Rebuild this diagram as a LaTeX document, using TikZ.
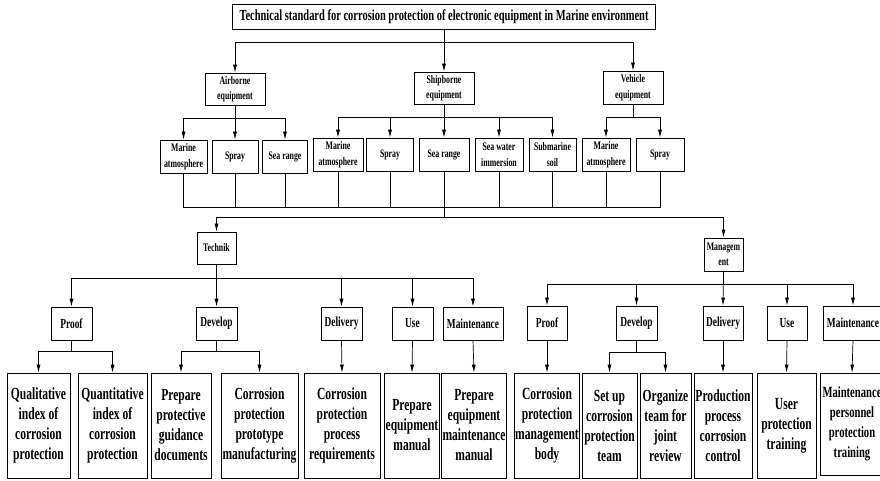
\documentclass[tikz,border=0pt]{standalone}
\usepackage{fontspec}
\newfontfamily\boxfont[FakeStretch=0.68]{Liberation Serif}
\usetikzlibrary{
  arrows.meta,
  positioning}

\begin{document}
\begin{tikzpicture}[x=1pt,y=-1pt]
  \tikzset{box/.style 2 args={draw,
                              rectangle,
                              color=black,
                              line width=0.8pt,
                              minimum width=#1,
                              minimum height=#2,
                              inner sep=1pt,
                              align=center},
           title font/.style={font=\boxfont\bfseries\fontsize{15.4}{17}\selectfont},
           small font/.style={font=\boxfont\bfseries\fontsize{11.5}{15.5}\selectfont},
           mid font/.style={font=\boxfont\bfseries\fontsize{13.8}{16}\selectfont},
           big font/.style={font=\boxfont\bfseries\fontsize{17}{20}\selectfont},
           edge font/.style={font=\boxfont\bfseries\fontsize{15.6}{20}\selectfont},
           link/.style={line width=0.7pt, -{Latex[length=8pt,width=4pt]}},
           bus/.style={line width=0.7pt}
           }

\useasboundingbox (0,0) rectangle (880,480);

%%%%%%%%%%%%%%%%%%%%%%%%%%%%%%%%%%%%%%%%%%%%%%%%%%%%%%%%%%%%%%%%%%%%%%%%%%%%%%

\node[box={423}{25},title font] (STD) at (444,16.5) {Technical standard for corrosion protection of electronic equipment in Marine environment};

\node[box={60}{32},small font] (AIR) at (235,89) {Airborne\\equipment};
\node[box={60}{32},small font] (SHIP) at (444,88) {Shipborne\\equipment};
\node[box={60}{33},small font] (VEH) at (633,87.5) {Vehicle\\equipment};

%%%%%%%%%%%%%%%%%%%%%%%%%%%%%%%%%%%%%%%%%%%%%%%%%%%%%%%%%%%%%%%%%%%%%%%%%%%%%%

\node[box={47}{33},small font] (AMA) at (183.5,156.5) {Marine\\atmosphere};
\node[box={46}{33},small font] (ASP) at (235,156.5) {Spray};
\node[box={45}{33},small font] (ASR) at (285,156.5) {Sea range};

\node[box={50}{33},small font] (SMA) at (338,154.5) {Marine\\atmosphere};
\node[box={47}{33},small font] (SSP) at (390,154.5) {Spray};
\node[box={50}{33},small font] (SSR) at (444,154.5) {Sea range};
\node[box={48}{33},small font] (SSW) at (499,154.5) {Sea water\\immersion};
\node[box={47}{33},small font] (SSS) at (552.5,154.5) {Submarine\\soil};

\node[box={48}{33},small font] (VMA) at (606,154.5) {Marine\\atmosphere};
\node[box={48}{33},small font] (VSP) at (660,154.5) {Spray};

\coordinate (J1) at (444,207);
\coordinate (J2) at (444,217);

%%%%%%%%%%%%%%%%%%%%%%%%%%%%%%%%%%%%%%%%%%%%%%%%%%%%%%%%%%%%%%%%%%%%%%%%%%%%%%

\node[box={39}{32},small font] (TEC) at (216.5,248) {Technik};
\node[box={39}{33},small font] (MAN) at (723.5,254.5) {Managem\\ent};

\node[box={41}{33},mid font] (TPR) at (71.5,323.5) {Proof};
\node[box={41}{33},mid font] (TDV) at (216.5,323.5) {Develop};
\node[box={41}{33},mid font] (TDL) at (341.5,323.5) {Delivery};
\node[box={41}{33},mid font] (TUS) at (412.5,323.5) {Use};
\node[box={60}{33},mid font] (TMT) at (473,323.5) {Maintenance};

\node[box={40}{34},mid font] (MPR) at (547,323) {Proof};
\node[box={41}{34},mid font] (MDV) at (636.5,323) {Develop};
\node[box={40}{34},mid font] (MDL) at (723,323) {Delivery};
\node[box={40}{34},mid font] (MUS) at (787,323) {Use};
\node[box={60}{34},mid font] (MMT) at (853,323) {Maintenance};

%%%%%%%%%%%%%%%%%%%%%%%%%%%%%%%%%%%%%%%%%%%%%%%%%%%%%%%%%%%%%%%%%%%%%%%%%%%%%%

\node[box={63}{105},big font] (QUAL) at (38.5,425.5) {Qualitative\\index of\\corrosion\\protection};
\node[box={69}{105},big font] (QUAN) at (112.5,425.5) {Quantitative\\index of\\corrosion\\protection};
\node[box={60}{105},big font] (PPG) at (181,425.5) {Prepare\\protective\\guidance\\documents};
\node[box={77}{105},big font] (CPM) at (259.5,425.5) {Corrosion\\protection\\prototype\\manufacturing};
\node[box={76}{105},big font] (CPR) at (342,425.5) {Corrosion\\protection\\process\\requirements};
\node[box={54}{105},big font] (PEM) at (412,425.5) {Prepare\\equipment\\manual};
\node[box={62}{105},big font] (PMM) at (474,425.5) {Prepare\\equipment\\maintenance\\manual};

\node[box={60}{105},big font] (CMB) at (547,425.5) {Corrosion\\protection\\management\\body};
\node[box={55}{105},big font] (SUT) at (609.5,425.5) {Set up\\corrosion\\protection\\team};
\node[box={51}{105},big font] (OTR) at (665.5,425.5) {Organize\\team for\\joint\\review};
\node[box={58}{105},big font] (PPC) at (723,425.5) {Production\\process\\corrosion\\control};
\node[box={59}{105},big font] (UPT) at (786.5,425.5) {User\\protection\\training};
\node[box={64}{102},edge font] (MPT) at (852,424) {Maintenance\\personnel\\protection\\training};

%%%%%%%%%%%%%%%%%%%%%%%%%%%%%%%%%%%%%%%%%%%%%%%%%%%%%%%%%%%%%%%%%%%%%%%%%%%%%%
\draw[link]  (STD.south) -- ++(0,13) -| (AIR.north);
\draw[link]  (STD.south) -- (SHIP.north);
\draw[link]  (STD.south) -- ++(0,13) -| (VEH.north);

\draw[link]  (AIR.south) -- ++(0,13) -| (AMA.north);
\draw[link]  (AIR.south) -- (ASP.north);
\draw[link]  (AIR.south) -- ++(0,13) -| (ASR.north);

\draw[link]  (SHIP.south) -- ++(0,13) -| (SMA.north);
\draw[link]  (SHIP.south) -- ++(0,13) -| (SSP.north);
\draw[link]  (SHIP.south) -- (SSR.north);
\draw[link]  (SHIP.south) -- ++(0,13) -| (SSW.north);
\draw[link]  (SHIP.south) -- ++(0,13) -| (SSS.north);

\draw[link]  (VEH.south) -- ++(0,13) -| (VMA.north);
\draw[link]  (VEH.south) -- ++(0,13) -| (VSP.north);

%%%%%%%%%%%%%%%%%%%%%%%%%%%%%%%%%%%%%%%%%%%%%%%%%%%%%%%%%%%%%%%%%%%%%%%%%%%%%%
\draw[bus]  (AMA.south) |- (J1);
\draw[bus]  (ASP.south) |- (J1);
\draw[bus]  (ASR.south) |- (J1);
\draw[bus]  (SMA.south) |- (J1);
\draw[bus]  (SSP.south) |- (J1);
\draw[bus]  (SSR.south) -- (J2);
\draw[bus]  (SSW.south) |- (J1);
\draw[bus]  (SSS.south) |- (J1);
\draw[bus]  (VMA.south) |- (J1);
\draw[bus]  (VSP.south) |- (J1);

\draw[link]  (J2) -| (TEC.north);
\draw[link]  (J2) -| (MAN.north);

%%%%%%%%%%%%%%%%%%%%%%%%%%%%%%%%%%%%%%%%%%%%%%%%%%%%%%%%%%%%%%%%%%%%%%%%%%%%%%
\draw[link]  (TEC.south) -- ++(0,14) -| (TPR.north);
\draw[link]  (TEC.south) -- (TDV.north);
\draw[link]  (TEC.south) -- ++(0,14) -| (TDL.north);
\draw[link]  (TEC.south) -- ++(0,14) -| (TUS.north);
\draw[link]  (TEC.south) -- ++(0,14) -| (TMT.north);

\draw[link]  (MAN.south) -- ++(0,13) -| (MPR.north);
\draw[link]  (MAN.south) -- ++(0,13) -| (MDV.north);
\draw[link]  (MAN.south) -- (MDL.north);
\draw[link]  (MAN.south) -- ++(0,13) -| (MUS.north);
\draw[link]  (MAN.south) -- ++(0,13) -| (MMT.north);

%%%%%%%%%%%%%%%%%%%%%%%%%%%%%%%%%%%%%%%%%%%%%%%%%%%%%%%%%%%%%%%%%%%%%%%%%%%%%%
\draw[link]  (TPR.south) -- ++(0,11) -| (QUAL.north);
\draw[link]  (TPR.south) -- ++(0,11) -| (QUAN.north);
\draw[link]  (TDV.south) -- ++(0,11) -| (PPG.north);
\draw[link]  (TDV.south) -- ++(0,11) -| (CPM.north);
\draw[link]  (TDL.south) -- (CPR.north);
\draw[link]  (TUS.south) -- (PEM.north);
\draw[link]  (TMT.south) -- (PMM.north);

\draw[link]  (MPR.south) -- (CMB.north);
\draw[link]  (MDV.south) -- ++(0,12) -| (SUT.north);
\draw[link]  (MDV.south) -- ++(0,12) -| (OTR.north);
\draw[link]  (MDL.south) -- (PPC.north);
\draw[link]  (MUS.south) -- (UPT.north);
\draw[link]  (MMT.south) -- (MPT.north);

%%%%%%%%%%%%%%%%%%%%%%%%%%%%%%%%%%%%%%%%%%%%%%%%%%%%%%%%%%%%%%%%%%%%%%%%%%%%%%

\end{tikzpicture}
\end{document}
